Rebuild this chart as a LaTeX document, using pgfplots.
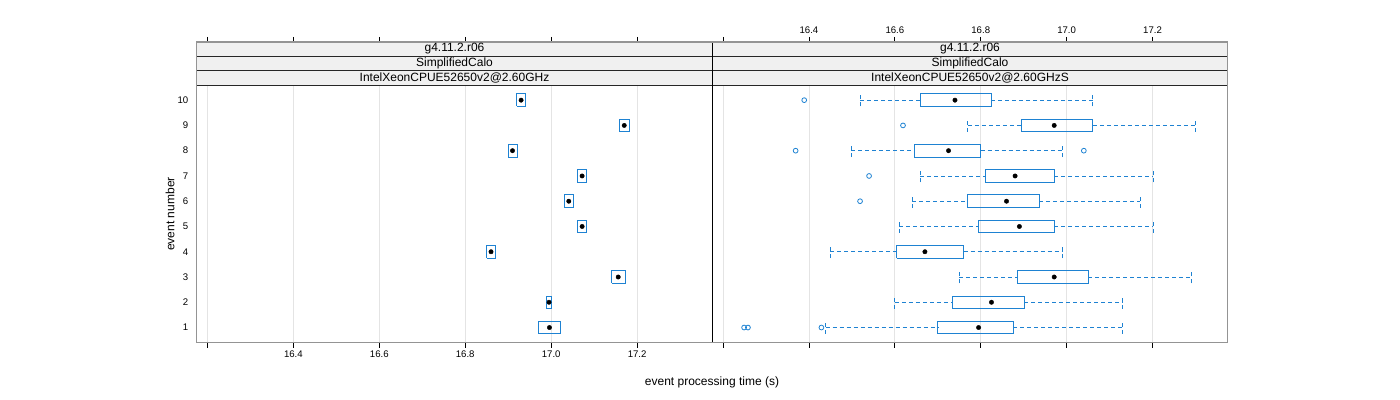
\documentclass[border=0pt]{standalone}
\usepackage{fontspec}
\setmainfont{Liberation Sans}
\usepackage{pgfplots}
\pgfplotsset{compat=1.18}
\definecolor{boxblue}{RGB}{30,130,210}
\definecolor{framegray}{RGB}{148,148,148}
\definecolor{stripfill}{RGB}{240,240,240}
\definecolor{gridgray}{RGB}{228,228,228}

\pgfplotsset{
  panel/.style={
    anchor=south west, scale only axis,
    width=515.6bp, height=300.7bp,
    xmin=16.175, xmax=17.375, ymin=0.4, ymax=12.302,
    xtick={16.2,16.4,16.6,16.8,17.0,17.2},
    xticklabels={,16.4,16.6,16.8,17.0,17.2},
    ytick={1,2,3,4,5,6,7,8,9,10},
    ytick pos=left,
    tick align=outside,
    major tick length=5bp,
    x tick style={black, line width=0.8bp},
    y tick style={draw=none},
    xmajorgrids, major grid style={gridgray, line width=0.8bp},
    axis line style={framegray, line width=1.3bp},
    tick label style={font=\fontsize{9.6bp}{11bp}\selectfont},
    /pgf/number format/assume math mode=true,
    unbounded coords=jump,
  },
  boxes/.style={draw=boxblue, line width=0.9bp, solid, mark=none},
  whisk/.style={draw=boxblue, line width=0.9bp, dash pattern=on 4bp off 3bp, mark=none},
  med/.style={only marks, mark=*, mark size=2.2bp, black, mark options={fill=black, draw=black}},
  outl/.style={only marks, mark=o, mark size=2.4bp, boxblue, mark options={line width=0.8bp}},
}

\begin{document}
\begin{tikzpicture}
\useasboundingbox (0,0) rectangle (1400bp,400bp);

% ---------- left panel ----------
\begin{axis}[panel, at={(196.7bp,57.3bp)}, xticklabel pos=lower, xtick pos=both]
\addplot[boxes] coordinates {
(16.970,0.75) (17.021,0.75) (17.021,1.25) (16.970,1.25) (16.970,0.75) (nan,nan)
(16.990,1.75) (17.000,1.75) (17.000,2.25) (16.990,2.25) (16.990,1.75) (nan,nan)
(17.141,2.75) (17.172,2.75) (17.172,3.25) (17.141,3.25) (17.141,2.75) (nan,nan)
(16.850,3.75) (16.870,3.75) (16.870,4.25) (16.850,4.25) (16.850,3.75) (nan,nan)
(17.061,4.75) (17.082,4.75) (17.082,5.25) (17.061,5.25) (17.061,4.75) (nan,nan)
(17.030,5.75) (17.051,5.75) (17.051,6.25) (17.030,6.25) (17.030,5.75) (nan,nan)
(17.061,6.75) (17.082,6.75) (17.082,7.25) (17.061,7.25) (17.061,6.75) (nan,nan)
(16.900,7.75) (16.921,7.75) (16.921,8.25) (16.900,8.25) (16.900,7.75) (nan,nan)
(17.158,8.75) (17.182,8.75) (17.182,9.25) (17.158,9.25) (17.158,8.75) (nan,nan)
(16.920,9.75) (16.941,9.75) (16.941,10.25) (16.920,10.25) (16.920,9.75)
};
\addplot[med] coordinates {(16.996,1) (16.995,2) (17.156,3) (16.860,4) (17.072,5) (17.041,6) (17.072,7) (16.910,8) (17.170,9) (16.930,10)};
\end{axis}

% ---------- right panel ----------
\begin{axis}[panel, at={(712.3bp,57.3bp)}, width=515.4bp, yticklabels={}, xticklabel pos=upper, xtick pos=both]
\addplot[whisk] coordinates {
(16.439,1) (16.700,1) (nan,nan) (16.876,1) (17.131,1) (nan,nan) (16.439,0.75) (16.439,1.25) (nan,nan) (17.131,0.75) (17.131,1.25) (nan,nan)
(16.600,2) (16.735,2) (nan,nan) (16.901,2) (17.131,2) (nan,nan) (16.600,1.75) (16.600,2.25) (nan,nan) (17.131,1.75) (17.131,2.25) (nan,nan)
(16.750,3) (16.885,3) (nan,nan) (17.050,3) (17.291,3) (nan,nan) (16.750,2.75) (16.750,3.25) (nan,nan) (17.291,2.75) (17.291,3.25) (nan,nan)
(16.450,4) (16.604,4) (nan,nan) (16.760,4) (16.990,4) (nan,nan) (16.450,3.75) (16.450,4.25) (nan,nan) (16.990,3.75) (16.990,4.25) (nan,nan)
(16.610,5) (16.795,5) (nan,nan) (16.971,5) (17.201,5) (nan,nan) (16.610,4.75) (16.610,5.25) (nan,nan) (17.201,4.75) (17.201,5.25) (nan,nan)
(16.640,6) (16.770,6) (nan,nan) (16.936,6) (17.171,6) (nan,nan) (16.640,5.75) (16.640,6.25) (nan,nan) (17.171,5.75) (17.171,6.25) (nan,nan)
(16.659,7) (16.810,7) (nan,nan) (16.971,7) (17.201,7) (nan,nan) (16.659,6.75) (16.659,7.25) (nan,nan) (17.201,6.75) (17.201,7.25) (nan,nan)
(16.499,8) (16.645,8) (nan,nan) (16.800,8) (16.990,8) (nan,nan) (16.499,7.75) (16.499,8.25) (nan,nan) (16.990,7.75) (16.990,8.25) (nan,nan)
(16.770,9) (16.895,9) (nan,nan) (17.061,9) (17.301,9) (nan,nan) (16.770,8.75) (16.770,9.25) (nan,nan) (17.301,8.75) (17.301,9.25) (nan,nan)
(16.519,10) (16.659,10) (nan,nan) (16.825,10) (17.061,10) (nan,nan) (16.519,9.75) (16.519,10.25) (nan,nan) (17.061,9.75) (17.061,10.25)
};
\addplot[boxes] coordinates {
(16.700,0.75) (16.876,0.75) (16.876,1.25) (16.700,1.25) (16.700,0.75) (nan,nan)
(16.735,1.75) (16.901,1.75) (16.901,2.25) (16.735,2.25) (16.735,1.75) (nan,nan)
(16.885,2.75) (17.050,2.75) (17.050,3.25) (16.885,3.25) (16.885,2.75) (nan,nan)
(16.604,3.75) (16.760,3.75) (16.760,4.25) (16.604,4.25) (16.604,3.75) (nan,nan)
(16.795,4.75) (16.971,4.75) (16.971,5.25) (16.795,5.25) (16.795,4.75) (nan,nan)
(16.770,5.75) (16.936,5.75) (16.936,6.25) (16.770,6.25) (16.770,5.75) (nan,nan)
(16.810,6.75) (16.971,6.75) (16.971,7.25) (16.810,7.25) (16.810,6.75) (nan,nan)
(16.645,7.75) (16.800,7.75) (16.800,8.25) (16.645,8.25) (16.645,7.75) (nan,nan)
(16.895,8.75) (17.061,8.75) (17.061,9.25) (16.895,9.25) (16.895,8.75) (nan,nan)
(16.659,9.75) (16.825,9.75) (16.825,10.25) (16.659,10.25) (16.659,9.75)
};
\addplot[med] coordinates {(16.795,1) (16.825,2) (16.971,3) (16.670,4) (16.890,5) (16.860,6) (16.880,7) (16.725,8) (16.971,9) (16.740,10)};
\addplot[outl] coordinates {(16.249,1) (16.258,1) (16.429,1) (16.519,6) (16.540,7) (16.369,8) (17.040,8) (16.619,9) (16.389,10)};
\end{axis}

% ---------- strips ----------
\fill[stripfill] (196.7bp,315bp) rectangle (1227.7bp,358bp);
\foreach \yy in {344,329.3,315} \draw[black!85, line width=0.9bp] (196.7bp,\yy bp) -- (1227.7bp,\yy bp);
\draw[black, line width=0.9bp] (712.3bp,57.3bp) -- (712.3bp,358bp);
\draw[framegray, line width=1.3bp] (196.7bp,57.3bp) rectangle (1227.7bp,358bp);
\begin{scope}[every node/.style={font=\fontsize{12bp}{14bp}\selectfont, inner sep=0pt}]
\node at (454.5bp,351bp) {g4.11.2.r06};
\node at (454.5bp,336.65bp) {SimplifiedCalo};
\node at (454.5bp,322.15bp) {IntelXeonCPUE52650v2@2.60GHz};
\node at (970bp,351bp) {g4.11.2.r06};
\node at (970bp,336.65bp) {SimplifiedCalo};
\node at (970bp,322.15bp) {IntelXeonCPUE52650v2@2.60GHzS};
\node[rotate=90] at (170bp,186bp) {event number};
\node at (712bp,18bp) {event processing time (s)};
\end{scope}
\end{tikzpicture}
\end{document}
